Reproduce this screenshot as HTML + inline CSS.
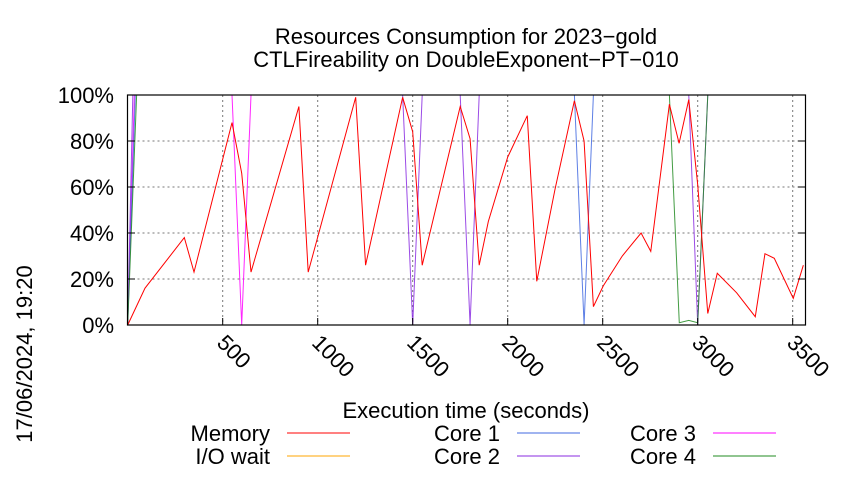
<!DOCTYPE html>
<html><head><meta charset="utf-8"><style>
body{margin:0;background:#fff;}
svg text{font-family:"Liberation Sans",sans-serif;fill:#000;}
</style></head><body>
<svg id="c" width="850" height="475" xmlns="http://www.w3.org/2000/svg">
<text x="466" y="44" font-size="22" text-anchor="middle">Resources Consumption for 2023−gold</text>
<text x="466" y="67" font-size="22" text-anchor="middle">CTLFireability on DoubleExponent−PT−010</text>
<g id="grid"></g>
<g id="series"></g>
<rect x="127.5" y="95" width="678" height="230" fill="none" stroke="#000" stroke-width="1.2"/>
<g id="axes"></g>
<text x="466" y="418" font-size="22" text-anchor="middle">Execution time (seconds)</text>
<text transform="translate(32,354) rotate(-90)" font-size="22" text-anchor="middle">17/06/2024, 19:20</text>
<g id="legend"></g>
</svg>
<script>
const xTicks=[500,1000,1500,2000,2500,3000,3500];
const yTicks=[0,20,40,60,80,100];
const memT=[0,91,298,349,549,600,649,901,950,1200,1252,1447,1500,1550,1750,1802,1850,1898,2000,2103,2153,2249,2351,2402,2451,2503,2603,2702,2753,2851,2902,2953,3000,3053,3103,3205,3303,3354,3403,3503,3556];
const memV=[0,16,38,23,88,66,23,95,23,99,26,99,84,26,95,81,26,45,73,91,19,59,97.5,80,8,17,30,40,32,96,79,98,61,5,22.5,14,3.6,31,29,11.6,26];
const ioT=[0,3556];
const ioV=[0,0];
const c1T=[0,40,2351,2402,2451,3556];
const c1V=[0,100,100,0,100,100];
const c2T=[0,27,1447,1500,1550,1750,1802,1850,2953,3000,3053,3556];
const c2V=[0,100,100,0,100,100,0,100,100,0,100,100];
const c3T=[0,35,549,600,649,3556];
const c3V=[0,100,100,0,100,100];
const c4T=[0,47,2851,2903,2953,3000,3053,3556];
const c4V=[0,100,100,1,2,1,100,100];
const X0=127.7,XS=0.19,Y0=325,YS=2.3;
const xs=t=>X0+t*XS, ys=v=>Y0-v*YS;
const NS="http://www.w3.org/2000/svg";
function mk(tag,attrs,parent){const e=document.createElementNS(NS,tag);for(const k in attrs)e.setAttribute(k,attrs[k]);parent.appendChild(e);return e;}
const grid=document.getElementById('grid'),axes=document.getElementById('axes');
xTicks.forEach(t=>{
 const g=mk('line',{x1:xs(t),x2:xs(t),y1:95,y2:325,stroke:'#777','stroke-dasharray':'2,3','stroke-width':1},grid);
 
 
 const tk=mk('line',{x1:xs(t),x2:xs(t),y1:325,y2:318,stroke:'#000'},axes);
 
 
 const tx=mk('text',{transform:`translate(${xs(t)-7},${344}) rotate(45)`,'font-size':22},axes);
 tx.textContent=t;
 
 
});
yTicks.forEach(v=>{
 if(v>0&&v<100){const g=mk('line',{x1:127.5,x2:805.5,y1:ys(v),y2:ys(v),stroke:'#777','stroke-dasharray':'2,3','stroke-width':1},grid);
 
 }
 const tk=mk('line',{x1:127.5,x2:135,y1:ys(v),y2:ys(v),stroke:'#000'},axes);
 
 
 const tk2=mk('line',{x1:798,x2:805.5,y1:ys(v),y2:ys(v),stroke:'#000'},axes);
 
 
 const tx=mk('text',{x:114,y:ys(v)+8,'font-size':22,'text-anchor':'end'},axes);
 tx.textContent=v+'%';
 
 
});
const series=[
 ['Memory','#ff0000',memT,memV],['I/O wait','#ffa500',ioT,ioV],['Core 1','#4169e1',c1T,c1V],
 ['Core 2','#8a2be2',c2T,c2V],['Core 3','#ff00ff',c3T,c3V],['Core 4','#228b22',c4T,c4V]];
const sg=document.getElementById('series');
const order=[1,4,2,3,5,0];
order.forEach(i=>{const s=series[i];
 const p=mk('polyline',{points:s[2].map((t,j)=>xs(t)+','+ys(s[3][j])).join(' '),fill:'none',stroke:s[1],'stroke-width':1,'stroke-opacity':i==0?1:0.85},sg);
 
 
});
const lg=document.getElementById('legend');
const pos=[[270,433],[270,456],[500,433],[500,456],[696,433],[696,456]];
const lorder=[0,1,2,3,4,5];
lorder.forEach((i,k)=>{const s=series[i],p=pos[k];
 const tx=mk('text',{x:p[0],y:p[1]+8,'font-size':22,'text-anchor':'end'},lg);
 tx.textContent=s[0];
 
 
 const ln=mk('line',{x1:p[0]+17,x2:p[0]+80,y1:p[1],y2:p[1],stroke:s[1],'stroke-width':1},lg);
 
 
});
</script>
</body></html>
